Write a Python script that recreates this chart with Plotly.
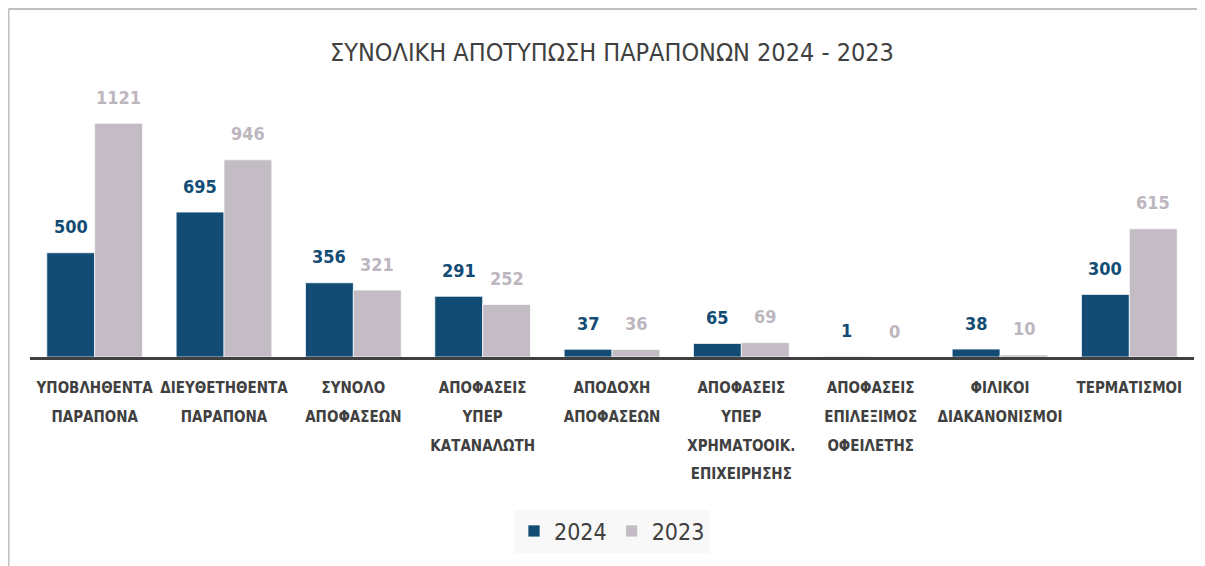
import plotly.graph_objs as go

# data
categories = [
    "ΥΠΟΒΛΗΘΕΝΤΑ<br>ΠΑΡΑΠΟΝΑ",
    "ΔΙΕΥΘΕΤΗΘΕΝΤΑ<br>ΠΑΡΑΠΟΝΑ",
    "ΣΥΝΟΛΟ<br>ΑΠΟΦΑΣΕΩΝ",
    "ΑΠΟΦΑΣΕΙΣ<br>ΥΠΕΡ<br>ΚΑΤΑΝΑΛΩΤΗ",
    "ΑΠΟΔΟΧΗ<br>ΑΠΟΦΑΣΕΩΝ",
    "ΑΠΟΦΑΣΕΙΣ<br>ΥΠΕΡ<br>ΧΡΗΜΑΤΟΟΙΚ.<br>ΕΠΙΧΕΙΡΗΣΗΣ",
    "ΑΠΟΦΑΣΕΙΣ<br>ΕΠΙΛΕΞΙΜΟΣ<br>ΟΦΕΙΛΕΤΗΣ",
    "ΦΙΛΙΚΟΙ<br>ΔΙΑΚΑΝΟΝΙΣΜΟΙ",
    "ΤΕΡΜΑΤΙΣΜΟΙ",
]
values_2024 = [500, 695, 356, 291, 37, 65, 1, 38, 300]
values_2023 = [1121, 946, 321, 252, 36, 69, 0, 10, 615]
series_names = ["2024", "2023"]

FONT = "Liberation Sans Narrow, DejaVu Sans Condensed, sans-serif"
BLUE = "#124c74"
GREY = "#c3bcc4"
TEXT = "#404040"

# page body adds 8px, so figure coords = picture coords - 8
W, H = 1205, 566
ML, MR, MT, MB = 22, 19, 78, 217


def tick_text(label):
    # big line spacing, small glyphs
    lines = label.split("<br>")
    return "<br>".join('<span style="font-size:15px">%s</span>' % l for l in lines)


def Bar(fig, x, y, name, color):
    fig.add_trace(
        go.Bar(
            x=x,
            y=y,
            name=name,
            marker=dict(color=color, line=dict(color="rgba(255,255,255,0.7)", width=1)),
            hoverinfo="x+y",
        )
    )
    return fig


def Labels(fig, x, y, color, shift):
    for xi, yi in zip(x, y):
        fig.add_annotation(
            x=xi, y=yi, xref="x", yref="y",
            text=str(yi), showarrow=False,
            xshift=shift, yshift=26, yanchor="middle",
            font=dict(family=FONT, size=18, color=color, weight="bold"),
        )
    return fig


fig = go.Figure()
fig = Bar(fig, categories, values_2024, series_names[0], BLUE)
fig = Bar(fig, categories, values_2023, series_names[1], GREY)
fig = Labels(fig, categories, values_2024, BLUE, -24)
fig = Labels(fig, categories, values_2023, "#bdb6be", 24)

plot_h = H - MT - MB
plot_w = W - ML - MR

# outer frame (left + top only visible)
x_left = (0.5 - ML) / plot_w
x_right = (W - ML) / plot_w
y_top = 1 + (MT - 1) / plot_h
y_bot = -MB / plot_h
fig.add_shape(type="line", xref="paper", yref="paper", x0=x_left, x1=x_left, y0=y_bot, y1=y_top,
              line=dict(color="#bfbfbf", width=2))
fig.add_shape(type="line", xref="paper", yref="paper", x0=x_left, x1=x_right, y0=y_top, y1=y_top,
              line=dict(color="#bfbfbf", width=2))

fig.update_layout(
    width=W,
    height=H,
    barmode="group",
    bargap=0.26,
    bargroupgap=0,
    plot_bgcolor="white",
    paper_bgcolor="white",
    margin=dict(l=ML, r=MR, t=MT, b=MB),
    title=dict(
        text="ΣΥΝΟΛΙΚΗ ΑΠΟΤΥΠΩΣΗ ΠΑΡΑΠΟΝΩΝ 2024 - 2023",
        x=(ML + plot_w / 2) / W, xanchor="center",
        y=1 - 44 / H, yanchor="middle",
        font=dict(family=FONT, size=25, color=TEXT),
    ),
    legend=dict(
        orientation="h",
        x=0.5, xanchor="center",
        y=-(523 - (MT + plot_h)) / plot_h, yanchor="middle",
        bgcolor="#f8f8f8",
        font=dict(family=FONT, size=23, color=TEXT),
    ),
    font=dict(family=FONT, color=TEXT),
)

fig.update_xaxes(
    tickvals=categories,
    ticktext=[tick_text(c) for c in categories],
    tickfont=dict(family=FONT, size=22, color=TEXT, weight="bold"),
    ticklabelstandoff=7,
    showline=True, linecolor="#404040", linewidth=3,
    showgrid=False, ticks="", tickangle=0,
)
fig.update_yaxes(range=[0, 1300], visible=False, showgrid=False)

fig.write_html("out.html")
